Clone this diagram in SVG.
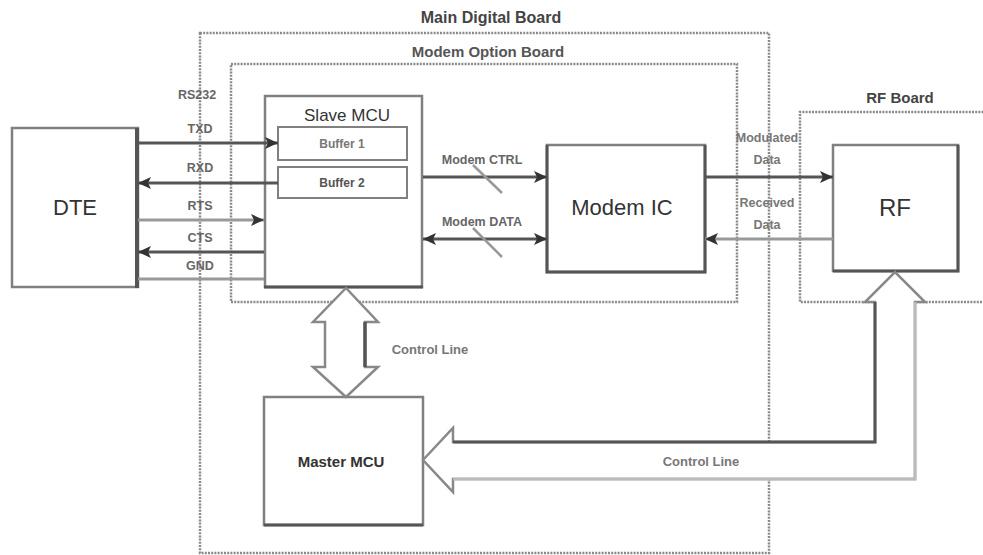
<svg xmlns="http://www.w3.org/2000/svg" width="983" height="555" viewBox="0 0 983 555">
<style>
text{font-family:"Liberation Sans",Arial,sans-serif;font-weight:bold;fill:#444;text-anchor:middle;dominant-baseline:central}
.board{fill:none;stroke:#8a8a8a;stroke-width:2.5;stroke-dasharray:2 1.2}
.box{fill:#fff;stroke:#808080;stroke-width:2.5}
.dk{stroke:#555;stroke-width:3;fill:none}
.ln{stroke:#555;stroke-width:3;fill:none}
.lt{stroke:#999;stroke-width:3;fill:none}
.sl{stroke:#999;stroke-width:2.5}
.lbl{font-size:12.5px;fill:#666}
.big{stroke:#888;stroke-width:2.5;fill:#fff}
</style>
<defs>
<marker id="ah" markerUnits="userSpaceOnUse" markerWidth="14" markerHeight="12" refX="13" refY="6" orient="auto-start-reverse">
<path d="M0,0 L13,6 L0,12 L3,6 z" fill="#333"/>
</marker>
</defs>

<g id="main-board">
<rect class="board" x="200" y="33" width="569" height="520"/>
<text x="491" y="17" style="font-size:16px">Main Digital Board</text>
</g>
<g id="modem-option-board">
<rect class="board" x="231" y="64" width="506" height="238"/>
<text x="488" y="51" style="font-size:15px;fill:#555">Modem Option Board</text>
</g>
<g id="rf-board">
<path class="board" d="M990,112 H800 V302 H990"/>
<text x="900" y="97" style="font-size:15px">RF Board</text>
</g>

<g id="dte">
<rect class="box" x="12" y="128" width="126" height="159"/>
<line class="dk" x1="137" y1="128" x2="137" y2="288" style="stroke-width:4"/>
<text x="75" y="207" style="font-size:22px;font-weight:normal;fill:#333">DTE</text>
</g>

<g id="slave-mcu">
<rect class="box" x="265" y="96" width="157" height="191"/>
<line class="dk" x1="264" y1="287" x2="423" y2="287"/>
<text x="347" y="115" style="font-size:17px;font-weight:normal;fill:#333">Slave MCU</text>
<g id="buffer-1">
<rect class="box" x="278" y="127" width="129" height="33" style="stroke-width:2"/>
<text x="342" y="144" style="font-size:12px;fill:#777">Buffer 1</text>
</g>
<g id="buffer-2">
<rect class="box" x="278" y="167" width="129" height="31" style="stroke-width:2"/>
<text x="342" y="183" style="font-size:12px;fill:#555">Buffer 2</text>
</g>
</g>

<g id="modem-ic">
<rect class="box" x="547" y="145" width="158" height="127"/>
<path class="dk" d="M547,145 V272 H705 V145"/>
<text x="622" y="207" style="font-size:22px;font-weight:normal;fill:#333">Modem IC</text>
</g>

<g id="rf">
<rect class="box" x="833" y="145" width="125" height="126"/>
<path class="dk" d="M833,271 H958 V145"/>
<text x="895" y="207" style="font-size:24px;font-weight:normal;fill:#333">RF</text>
</g>

<g id="master-mcu">
<rect class="box" x="264" y="397" width="159" height="128"/>
<line class="dk" x1="264" y1="525" x2="423" y2="525"/>
<text x="341" y="461" style="font-size:15px;fill:#333">Master MCU</text>
</g>

<g id="connectors">
<text x="197" y="95" class="lbl">RS232</text>
<text x="200" y="129" class="lbl">TXD</text>
<text x="200" y="168" class="lbl">RXD</text>
<text x="200" y="206" class="lbl">RTS</text>
<text x="200" y="238" class="lbl">CTS</text>
<text x="200" y="266" class="lbl">GND</text>
<line class="ln" x1="138" y1="143" x2="278" y2="143" marker-end="url(#ah)"/>
<line class="ln" x1="278" y1="183" x2="138" y2="183" marker-end="url(#ah)"/>
<line class="lt" x1="138" y1="220" x2="264" y2="220" marker-end="url(#ah)"/>
<line class="ln" x1="264" y1="252" x2="138" y2="252" marker-end="url(#ah)"/>
<line class="lt" x1="138" y1="279" x2="264" y2="279"/>

<text x="482" y="160" class="lbl">Modem CTRL</text>
<line class="ln" x1="423" y1="177" x2="547" y2="177" marker-end="url(#ah)"/>
<line class="sl" x1="473" y1="165" x2="502" y2="193"/>
<text x="482" y="222" class="lbl">Modem DATA</text>
<line class="ln" x1="423" y1="239" x2="547" y2="239" marker-start="url(#ah)" marker-end="url(#ah)"/>
<line class="sl" x1="473" y1="228" x2="502" y2="257"/>

<text x="767" y="138" class="lbl" style="fill:#777">Modulated</text>
<text x="767" y="160" class="lbl" style="fill:#777">Data</text>
<line class="ln" x1="705" y1="177" x2="833" y2="177" marker-end="url(#ah)"/>
<text x="767" y="203" class="lbl" style="fill:#777">Received</text>
<text x="767" y="225" class="lbl" style="fill:#777">Data</text>
<line class="lt" x1="833" y1="239" x2="705" y2="239" marker-end="url(#ah)"/>

<g id="control-line-slave-master">
<polygon class="big" points="346,288 378,322 365,322 365,367 378,367 346,397 313,367 325,367 325,322 313,322"/>
<line class="dk" x1="365" y1="322" x2="365" y2="367" style="stroke-width:3.5"/>
<text x="430" y="349" class="lbl" style="font-size:13px;fill:#777">Control Line</text>
</g>

<g id="control-line-rf-master">
<polygon class="big" points="423,460 453,428 453,442 875,442 875,302 865,302 895,272 925,302 915,302 915,479 453,479 453,492"/>
<path class="dk" d="M453,442 H875 V302"/>
<path class="lt" d="M915,302 V479 H453" style="stroke:#bbb"/>
<text x="701" y="461" class="lbl" style="font-size:13px;fill:#777">Control Line</text>
</g>
</g>
</svg>
